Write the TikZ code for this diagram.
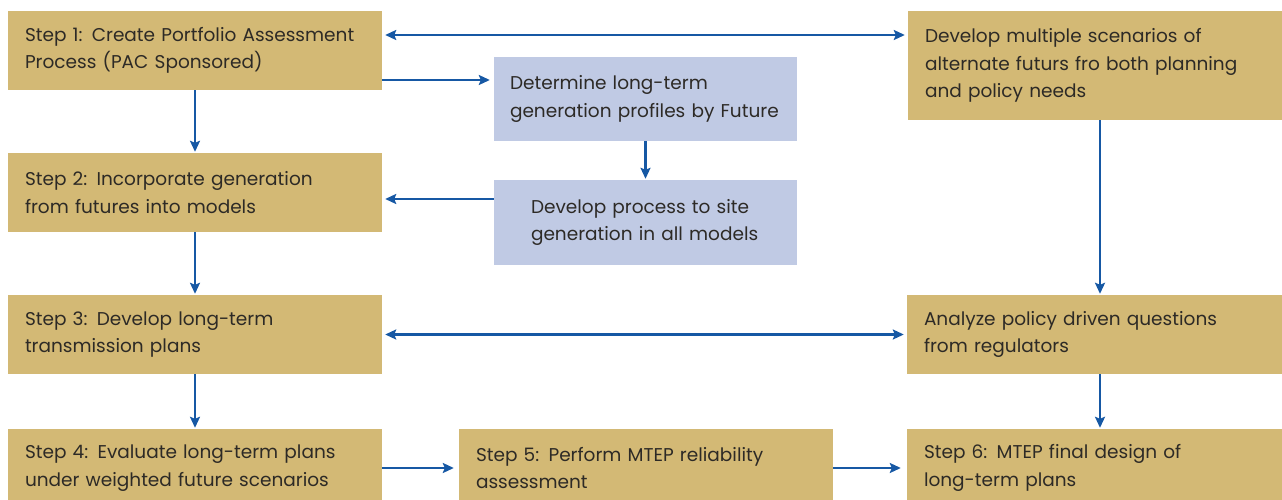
\documentclass[tikz,border=0pt]{standalone}
\usepackage{fontspec}
\setmainfont{Poppins}
\usepackage{xcolor}
\usetikzlibrary{arrows.meta,calc}
\definecolor{tan}{RGB}{211,185,117}
\definecolor{lav}{RGB}{192,202,228}
\definecolor{arrblue}{RGB}{22,88,164}
\definecolor{ink}{RGB}{45,42,38}
\tikzstyle{stepbox}=[rectangle, fill=tan, inner sep=0pt, inner xsep=17pt, text=ink, align=left, anchor=center, font=\fontsize{18.5}{27.5}\selectfont]
\tikzstyle{genbox}=[stepbox, fill=lav]
\tikzstyle{arr}=[draw=arrblue, line width=2.2pt, -{Stealth[length=11pt,width=10pt,inset=2pt]}]
\tikzstyle{darr}=[arr, {Stealth[length=11pt,width=10pt,inset=2pt]}-{Stealth[length=11pt,width=10pt,inset=2pt]}]
\newcommand{\boxat}[7]{
	\node[#1, minimum width=#4pt, minimum height=#5pt, text width=#6pt] (#2) at #3 {#7};
}

\begin{document}
\begin{tikzpicture}[x=1pt,y=-1pt]
	\useasboundingbox (0,0) rectangle (1282,500);
	\boxat{stepbox}{s1}{(195,50.5)}{374}{79}{340}{Step 1: Create Portfolio Assessment\\Process (PAC Sponsored)}
	\boxat{stepbox}{s2}{(195,192.5)}{374}{79}{340}{Step 2: Incorporate generation\\from futures into models}
	\boxat{stepbox}{s3}{(195,334.5)}{374}{79}{340}{Step 3: Develop long-term\\transmission plans}
	\boxat{stepbox}{s4}{(195,468)}{374}{78}{340}{Step 4: Evaluate long-term plans\\under weighted future scenarios}
	\boxat{stepbox}{s5}{(646,468)}{374}{78}{340}{Step 5: Perform MTEP reliability\\assessment}
	\boxat{stepbox}{s6}{(1094.5,468)}{375}{78}{341}{Step 6: MTEP final design of\\long-term plans}
	\boxat{stepbox}{scen}{(1095,65.5)}{374}{109}{340}{Develop multiple scenarios of\\alternate futurs fro both planning\\and policy needs}
	\boxat{stepbox}{anal}{(1094.5,334.5)}{375}{79}{341}{Analyze policy driven questions\\from regulators}
	\boxat{genbox, inner xsep=16pt}{det}{(645.5,99)}{303}{84}{271}{Determine long-term\\generation profiles by Future}
	\boxat{genbox, inner xsep=37pt}{dev}{(645.5,222.5)}{303}{85}{229}{Develop process to site\\generation in all models}

	\draw[darr, shorten <=3pt, shorten >=3pt] ([yshift=15.5pt]s1.east) -- ([yshift=15.5pt]s1.east -| scen.west);
	\draw[arr, shorten >=4pt] ([yshift=-29.5pt]s1.east) -- ([yshift=-29.5pt]s1.east -| det.west);
	\draw[arr, shorten >=1pt] (det.south) -- (dev.north);
	\draw[arr, shorten >=3pt] ([yshift=23.5pt]dev.west) -- ([yshift=23.5pt]dev.west -| s2.east);
	\draw[arr, shorten >=1pt] (s1.south) -- (s2.north);
	\draw[arr, shorten >=1pt] (s2.south) -- (s3.north);
	\draw[arr, shorten >=1pt] (s3.south) -- (s4.north);
	\draw[darr, shorten <=3pt, shorten >=3pt] (s3.east) -- (anal.west);
	\draw[arr, shorten >=1pt] ([xshift=5pt]scen.south) -- ([xshift=5pt]scen.south |- anal.north);
	\draw[arr, shorten >=1pt] ([xshift=5.5pt]anal.south) -- ([xshift=5.5pt]anal.south |- s6.north);
	\draw[arr, shorten >=5pt] (s4.east) -- (s5.west);
	\draw[arr, shorten >=6pt] (s5.east) -- (s6.west);
\end{tikzpicture}
\end{document}
